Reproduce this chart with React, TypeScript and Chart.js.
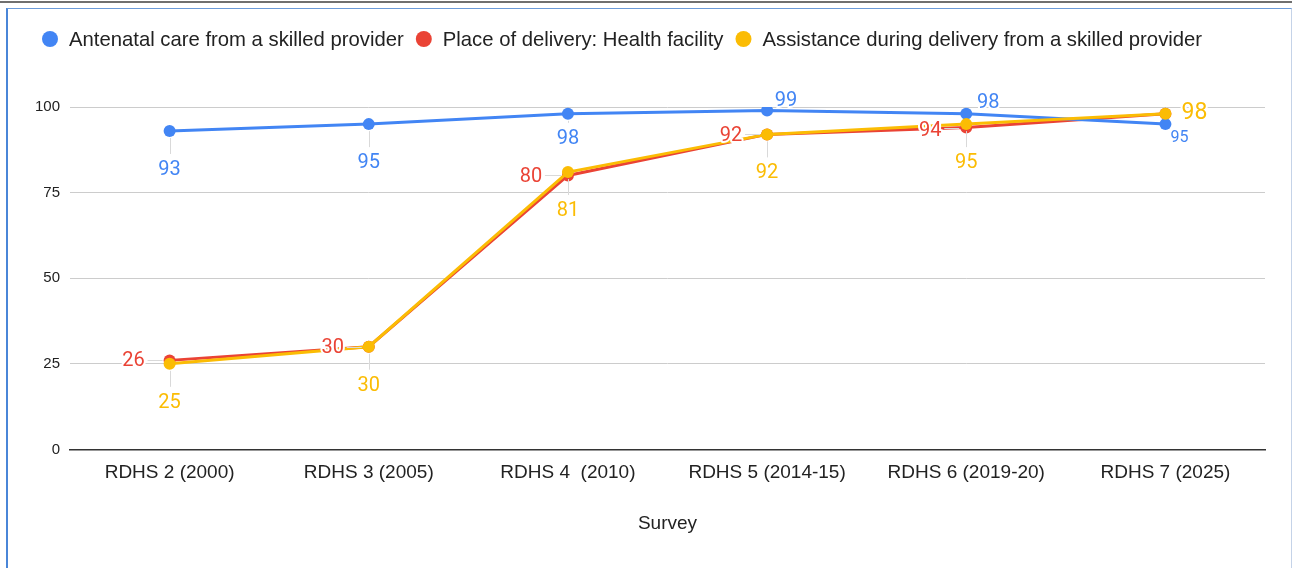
import React, { useEffect, useRef } from "react";
import { Chart, registerables } from "chart.js";

Chart.register(...registerables);

const categories = [
  "RDHS 2 (2000)",
  "RDHS 3 (2005)",
  "RDHS 4  (2010)",
  "RDHS 5 (2014-15)",
  "RDHS 6 (2019-20)",
  "RDHS 7 (2025)",
];
const antenatalCare = [93, 95, 98, 99, 98, 95];
const deliveryFacility = [26, 30, 80, 92, 94, 98];
const skilledAssistance = [25, 30, 81, 92, 95, 98];
const seriesNames = [
  "Antenatal care from a skilled provider",
  "Place of delivery: Health facility",
  "Assistance during delivery from a skilled provider",
];
const yTicks = [0, 25, 50, 75, 100];
const xAxisTitle = "Survey";

const COLORS = ["#4285F4", "#EA4335", "#FBBC04"];
const AXIS_FONT = "Arial, 'Liberation Sans', sans-serif";
const LABEL_FONT = "Roboto, 'Noto Sans', sans-serif";

// label placement styling per series/point: [dx, dy, fontSize, stem] (stem: 'v' | 'h' | '' | 'hide')
const labelPlacement: [number, number, number, string][][] = [
  [[0, 38, 20, "v"], [0, 38, 20, "v"], [0, 24, 20, "v"], [19, -10, 20, ""], [22, -12, 20, ""], [14, 13, 16, ""]],
  [[-36, 0, 20, "h"], [-36, 0, 20, "h"], [-37, 1, 20, "h"], [-36, 1, 20, "h"], [-36, 2, 20, "h"], [0, 0, 20, "hide"]],
  [[0, 38, 20, "v"], [0, 38, 20, "v"], [0, 38, 20, "v"], [0, 38, 20, "v"], [0, 38, 20, "v"], [29, -2, 23, ""]],
];

const legendPlugin = {
  id: "customLegend",
  afterDraw(chart: any) {
    const ctx = chart.ctx;
    ctx.save();
    ctx.font = `20.3px ${AXIS_FONT}`;
    ctx.textBaseline = "middle";
    ctx.textAlign = "left";
    let x = 42;
    const y = 39;
    seriesNames.forEach((name, i) => {
      ctx.fillStyle = COLORS[i];
      ctx.beginPath();
      ctx.arc(x + 8, y, 8, 0, Math.PI * 2);
      ctx.fill();
      ctx.fillStyle = "#222222";
      ctx.fillText(name, x + 27, y + 1);
      x = x + 27 + ctx.measureText(name).width + 12;
    });
    ctx.restore();
  },
};

const dataLabelPlugin = {
  id: "pointLabels",
  afterDatasetsDraw(chart: any) {
    const ctx = chart.ctx;
    ctx.save();
    chart.data.datasets.forEach((ds: any, di: number) => {
      const meta = chart.getDatasetMeta(di);
      meta.data.forEach((pt: any, i: number) => {
        const [dx, dy, size, stem] = labelPlacement[di][i];
        if (stem === "hide") return;
        const lx = pt.x + dx;
        const ly = pt.y + dy;
        ctx.strokeStyle = "#d9d9d9";
        ctx.lineWidth = 1;
        if (stem === "v") {
          ctx.beginPath();
          ctx.moveTo(Math.round(pt.x) + 0.5, pt.y + 7);
          ctx.lineTo(Math.round(pt.x) + 0.5, ly - 15);
          ctx.stroke();
        } else if (stem === "h") {
          ctx.beginPath();
          ctx.moveTo(lx + 14, Math.round(pt.y) + 0.5);
          ctx.lineTo(pt.x - 7, Math.round(pt.y) + 0.5);
          ctx.stroke();
        }
        ctx.font = `${size}px ${LABEL_FONT}`;
        ctx.textAlign = "center";
        ctx.textBaseline = "middle";
        ctx.lineWidth = 4;
        ctx.lineJoin = "round";
        ctx.strokeStyle = "#ffffff";
        const txt = String(ds.data[i]);
        ctx.strokeText(txt, lx, ly + 1);
        ctx.fillStyle = COLORS[di];
        ctx.fillText(txt, lx, ly + 1);
      });
    });
    ctx.restore();
  },
};

export default function App() {
  const canvasRef = useRef<HTMLCanvasElement | null>(null);

  useEffect(() => {
    if (!canvasRef.current) return;
    const series = [antenatalCare, deliveryFacility, skilledAssistance];
    const orders = [1, 2, 0];
    const chart = new Chart(canvasRef.current, {
      type: "line",
      data: {
        labels: categories,
        datasets: series.map((d, i) => ({
          label: seriesNames[i],
          data: d,
          borderColor: COLORS[i],
          backgroundColor: COLORS[i],
          borderWidth: 3,
          pointRadius: 6,
          pointHoverRadius: 6,
          pointBorderWidth: 0,
          tension: 0,
          order: orders[i],
        })),
      },
      options: {
        animation: false,
        responsive: false,
        layout: { padding: { left: 25, right: 27, top: 107, bottom: 33 } },
        plugins: {
          legend: { display: false },
          tooltip: { enabled: false },
        },
        scales: {
          x: {
            offset: true,
            grid: { display: false, drawTicks: false },
            border: { display: true, color: "#333333", width: 1.5 },
            ticks: {
              padding: 12,
              color: "#222222",
              font: { family: AXIS_FONT, size: 19 },
              maxRotation: 0,
              autoSkip: false,
            },
            title: {
              display: true,
              text: xAxisTitle,
              color: "#222222",
              font: { family: AXIS_FONT, size: 19 },
              padding: { top: 16, bottom: 0 },
            },
          },
          y: {
            min: 0,
            max: 100,
            afterBuildTicks: (axis: any) => {
              axis.ticks = yTicks.map((v) => ({ value: v }));
            },
            grid: {
              color: (c: any) => (c.tick && c.tick.value === 0 ? "rgba(0,0,0,0)" : "#cccccc"),
              lineWidth: 1,
              drawTicks: false,
            },
            border: { display: false },
            ticks: {
              padding: 10,
              color: "#222222",
              font: { family: AXIS_FONT, size: 15 },
            },
          },
        },
      },
      plugins: [legendPlugin, dataLabelPlugin],
    });
    return () => chart.destroy();
  }, []);

  return (
    <div
      style={{
        position: "fixed",
        left: 0,
        top: 0,
        width: 1292,
        height: 568,
        background: "#ffffff",
        overflow: "hidden",
      }}
    >
      <div style={{ position: "absolute", left: 0, top: 1, width: 1292, height: 2, background: "#6f6f6f" }} />
      <div
        style={{
          position: "absolute",
          left: 6,
          top: 8,
          width: 1283,
          height: 570,
          borderLeft: "2px solid #4a86d8",
          borderTop: "1px solid #6a9ad8",
          borderRight: "1px solid #c5d3e8",
        }}
      />
      <canvas ref={canvasRef} width={1292} height={568} style={{ position: "absolute", left: 0, top: 0 }} />
    </div>
  );
}
